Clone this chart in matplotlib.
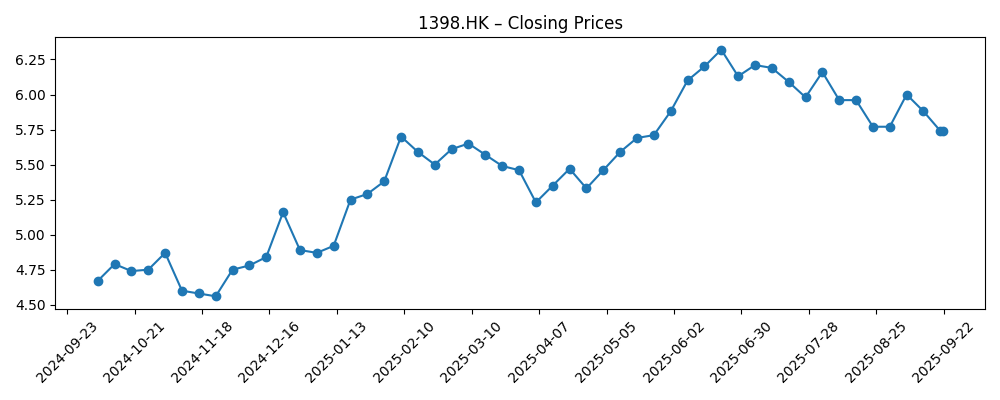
import matplotlib
matplotlib.use("Agg")
import matplotlib.pyplot as plt
import matplotlib.dates as mdates
import pandas as pd
from datetime import datetime

# weekly closes (week ending Sunday) plus the last trading day
dates = list(pd.date_range("2024-10-06", "2025-09-21", freq="W-SUN")) + [pd.Timestamp("2025-09-22")]
closes = [4.67, 4.79, 4.74, 4.75, 4.87, 4.60, 4.58, 4.56, 4.75, 4.78,
          4.84, 5.16, 4.89, 4.87, 4.92, 5.25, 5.29, 5.38, 5.70, 5.59,
          5.50, 5.61, 5.65, 5.57, 5.49, 5.46, 5.23, 5.35, 5.47, 5.33,
          5.46, 5.59, 5.69, 5.71, 5.88, 6.10, 6.20, 6.32, 6.13, 6.21,
          6.19, 6.09, 5.98, 6.16, 5.96, 5.96, 5.77, 5.77, 6.00, 5.88,
          5.74, 5.74]

fig, ax = plt.subplots(figsize=(10, 4), dpi=100)
ax.plot(dates, closes, marker='o')
ax.set_title('1398.HK – Closing Prices')

loc = mdates.RRuleLocator(mdates.rrulewrapper(mdates.WEEKLY, interval=4,
                                              byweekday=mdates.MO,
                                              dtstart=datetime(2024, 9, 23)))
ax.xaxis.set_major_locator(loc)
ax.xaxis.set_major_formatter(mdates.DateFormatter('%Y-%m-%d'))
plt.xticks(rotation=45)
plt.tight_layout()
plt.savefig('out.png')
